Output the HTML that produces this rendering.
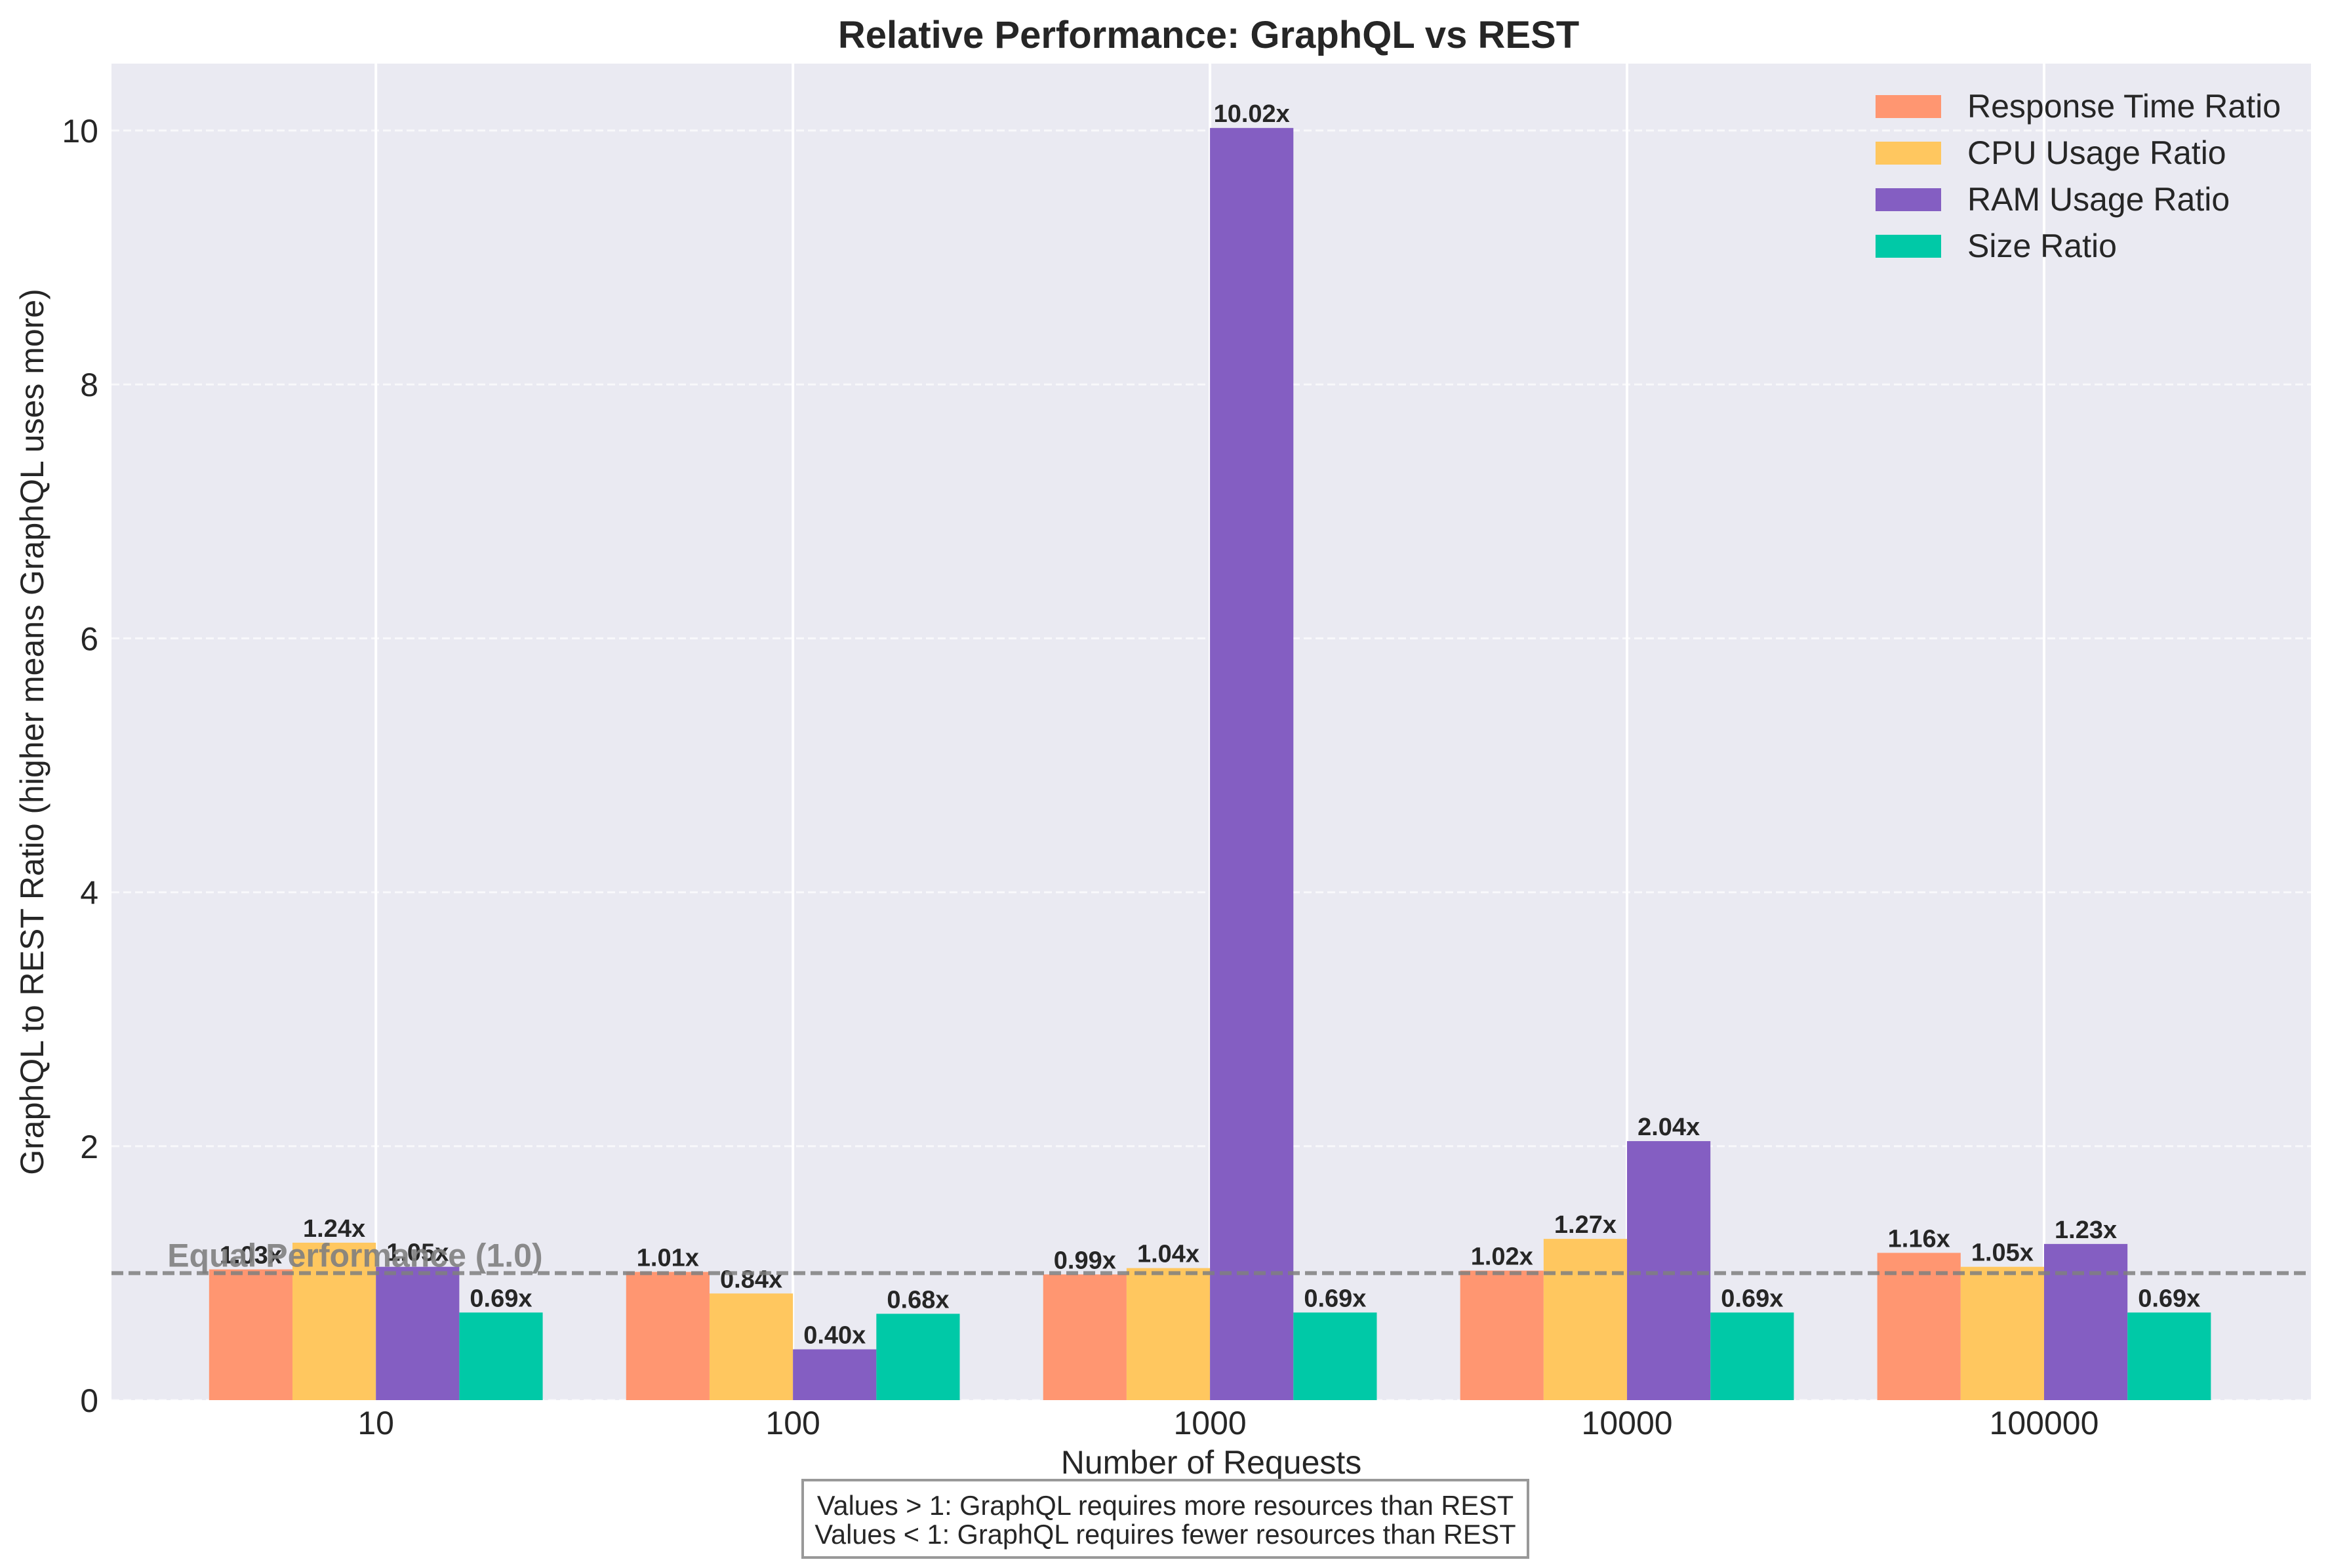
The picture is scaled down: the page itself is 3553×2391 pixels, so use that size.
<!DOCTYPE html>
<html><head><meta charset="utf-8">
<style>
html,body{margin:0;padding:0;background:#fff;}
svg{display:block;font-family:"Liberation Sans",Arial,sans-serif;}
</style></head>
<body>
<svg id="chart" width="3553" height="2391" viewBox="0 0 3553 2391" xmlns="http://www.w3.org/2000/svg">
<rect x="0" y="0" width="3553" height="2391" fill="#ffffff"/>
<rect x="170" y="97" width="3354" height="2038" fill="#eaeaf2"/>
<g id="grid"></g>
<g id="bars"></g>
<g id="labels"></g>
<g id="axes"></g>
<text x="1843" y="73" font-size="58" font-weight="bold" text-anchor="middle" fill="#262626">Relative Performance: GraphQL vs REST</text>
<text x="1847" y="2247" font-size="50" text-anchor="middle" fill="#262626">Number of Requests</text>
<text transform="translate(66,1116) rotate(-90)" font-size="50" text-anchor="middle" fill="#262626">GraphQL to REST Ratio (higher means GraphQL uses more)</text>
<g id="legend"></g>
<g>
<rect x="1224" y="2257" width="1106" height="118" fill="#ffffff" stroke="#999999" stroke-width="4"/>
<text x="1777" y="2310" font-size="41.5" text-anchor="middle" fill="#262626">Values &gt; 1: GraphQL requires more resources than REST</text>
<text x="1777" y="2354" font-size="41.5" text-anchor="middle" fill="#262626">Values &lt; 1: GraphQL requires fewer resources than REST</text>
</g>
</svg>
<script>
const categories = ["10","100","1000","10000","100000"];
const seriesNames = ["Response Time Ratio","CPU Usage Ratio","RAM Usage Ratio","Size Ratio"];
const responseTime = [1.03,1.01,0.99,1.02,1.16];
const cpuUsage = [1.24,0.84,1.04,1.27,1.05];
const ramUsage = [1.05,0.40,10.02,2.04,1.23];
const sizeRatio = [0.69,0.68,0.69,0.69,0.69];
const yTicks = [0,2,4,6,8,10];
const refValue = 1.0;

const NS = "http://www.w3.org/2000/svg";
const colors = ["#ff9671","#ffc75f","#845ec2","#00c9a7"];
const series = [responseTime,cpuUsage,ramUsage,sizeRatio];
const plotL=170, plotR=3524, plotT=97, plotB=2135;
const xMin=-0.634, xMax=4.64, yMin=0, yMax=10.527;
function xs(v){return plotL+(v-xMin)/(xMax-xMin)*(plotR-plotL);}
function ys(v){return plotB-(v-yMin)/(yMax-yMin)*(plotB-plotT);}
function mk(tag,attrs,parent){const e=document.createElementNS(NS,tag);for(const k in attrs)e.setAttribute(k,attrs[k]);parent.appendChild(e);return e;}

const grid=document.getElementById('grid');
const axes=document.getElementById('axes');
yTicks.forEach(t=>{
  const l=mk('line',{x1:plotL,x2:plotR,y1:ys(t),y2:ys(t),stroke:'#ffffff','stroke-width':3,'stroke-dasharray':'12,6',opacity:0.7},grid);
  
  
  const tx=mk('text',{x:150,y:ys(t)+18,'font-size':50,'text-anchor':'end',fill:'#262626'},axes);
  tx.textContent=String(t);
  
  
});
categories.forEach((c,i)=>{
  const l=mk('line',{x1:xs(i),x2:xs(i),y1:plotT,y2:plotB,stroke:'#ffffff','stroke-width':4},grid);
  
  
  const tx=mk('text',{x:xs(i),y:2187,'font-size':50,'text-anchor':'middle',fill:'#262626'},axes);
  tx.textContent=c;
  
  
});

const bars=document.getElementById('bars');
const labels=document.getElementById('labels');
const bw=0.2;
series.forEach((vals,s)=>{
  vals.forEach((v,i)=>{
    const x0=xs(i+(s-1.5)*bw-bw/2), x1=xs(i+(s-1.5)*bw+bw/2);
    const r=mk('rect',{x:x0,y:ys(v),width:x1-x0,height:ys(0)-ys(v),fill:colors[s]},bars);
    
    
    const t=mk('text',{x:(x0+x1)/2,y:ys(v)-9,'font-size':38,'font-weight':'bold','text-anchor':'middle',fill:'#262626'},labels);
    t.textContent=v.toFixed(2)+'x';
    
    
  });
});

const ref=mk('line',{x1:plotL,x2:plotR,y1:ys(refValue),y2:ys(refValue),stroke:'#808080','stroke-width':6,'stroke-dasharray':'18,8',opacity:0.85},labels);


const rt=mk('text',{x:xs(-0.5),y:ys(1.05),'font-size':50,'font-weight':'bold',fill:'#808080',opacity:0.9},labels);
rt.textContent='Equal Performance (1.0)';



const lg=document.getElementById('legend');
seriesNames.forEach((n,s)=>{
  const cy=162+s*71;
  const p=mk('rect',{x:2860,y:cy-17,width:100,height:35,fill:colors[s]},lg);
  
  
  const t=mk('text',{x:3000,y:cy+17,'font-size':50,fill:'#262626'},lg);
  t.textContent=n;
  
  
});
</script>
</body></html>
